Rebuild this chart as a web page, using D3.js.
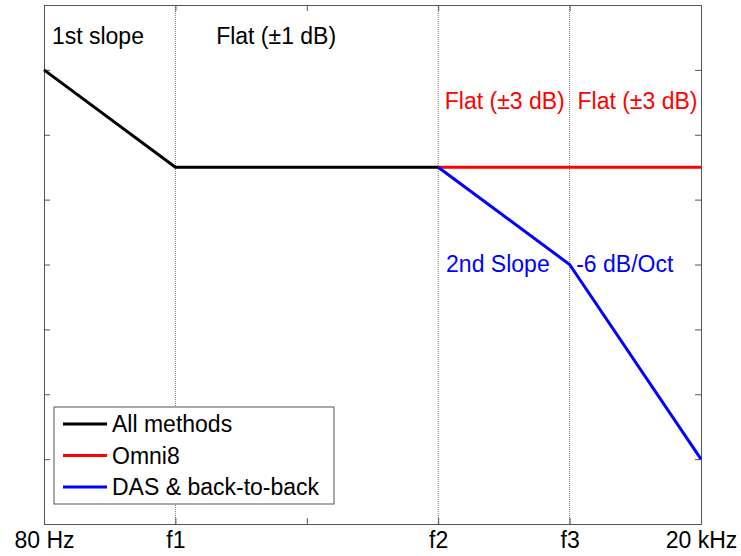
<!DOCTYPE html>
<html>
<head>
<meta charset="utf-8">
<script src="https://cdn.jsdelivr.net/npm/d3@7"></script>
<style>
  body { margin: 0; background: #fff; }
  text { font-family: "Liberation Sans", Arial, sans-serif; }
</style>
</head>
<body>
<div id="chart"></div>
<script>
// band positions along the axis (equal spacing)
const xTickValues = [0, 1, 2, 3, 4, 5];
const xTickLabels = ["80 Hz", "f1", "", "f2", "f3", "20 kHz"];
const yTickValues = [0, 1, 2, 3, 4, 5, 6, 7, 8];
const gridX = [1, 3, 4];

const allMethods = [[0, 7], [1, 5.5], [3, 5.5]];
const omni8 = [[3, 5.5], [5, 5.5]];
const dasB2B = [[3, 5.5], [4, 4], [5, 1]];

const series = [
    { name: "All methods", color: "#000000", data: allMethods },
    { name: "Omni8", color: "#ff0000", data: omni8 },
    { name: "DAS & back-to-back", color: "#0000ff", data: dasB2B }
];

const notes = [
    { text: "1st slope", x: 0.06, y: 7.4, color: "#000" },
    { text: "Flat (\u00b11 dB)", x: 1.31, y: 7.4, color: "#000" },
    { text: "Flat (\u00b13 dB)", x: 3.05, y: 6.4, color: "#ff0000" },
    { text: "Flat (\u00b13 dB)", x: 4.06, y: 6.4, color: "#ff0000" },
    { text: "2nd Slope", x: 3.06, y: 3.88, color: "#0000ff" },
    { text: "-6 dB/Oct", x: 4.05, y: 3.88, color: "#0000ff" }
];

const width = 741, height = 556;
const margin = { left: 44, right: 40, top: 5, bottom: 32 };
const fontSize = "23px";

const svg = d3.select("#chart").append("svg")
    .attr("width", width)
    .attr("height", height);

const x = d3.scaleLinear().domain([0, 5]).range([margin.left, width - margin.right]);
const y = d3.scaleLinear().domain([0, 8]).range([height - margin.bottom, margin.top]);

// dotted grid at the band edges
svg.selectAll(".grid").data(gridX).enter().append("line")
    .attr("x1", d => x(d)).attr("x2", d => x(d))
    .attr("y1", y(0)).attr("y2", y(8))
    .attr("stroke", "#777").attr("stroke-width", 1)
    .attr("stroke-dasharray", "1,1");

// axes, ticks inward on all sides
const axisColor = "#555";
const gBottom = svg.append("g").attr("transform", `translate(0,${y(0)})`)
    .call(d3.axisBottom(x).tickValues(xTickValues).tickSize(-6).tickPadding(8)
        .tickFormat((d, i) => xTickLabels[i]));
const gTop = svg.append("g").attr("transform", `translate(0,${y(8)})`)
    .call(d3.axisTop(x).tickValues(xTickValues).tickSize(-6).tickFormat(""));
const gLeft = svg.append("g").attr("transform", `translate(${x(0)},0)`)
    .call(d3.axisLeft(y).tickValues(yTickValues).tickSize(-6).tickFormat(""));
const gRight = svg.append("g").attr("transform", `translate(${x(5)},0)`)
    .call(d3.axisRight(y).tickValues(yTickValues).tickSize(-6).tickFormat(""));

[gBottom, gTop, gLeft, gRight].forEach(g => {
    g.selectAll("path").attr("stroke", axisColor);
    g.selectAll("line").attr("stroke", axisColor);
});
gBottom.selectAll("text")
    .attr("fill", "#000")
    .style("font-size", fontSize)
    .style("font-family", "'Liberation Sans', Arial, sans-serif");

// lines
const line = d3.line().x(d => x(d[0])).y(d => y(d[1]));
svg.selectAll(".series").data(series).enter().append("path")
    .attr("d", d => line(d.data))
    .attr("fill", "none")
    .attr("stroke", d => d.color)
    .attr("stroke-width", 3);

// annotations
svg.selectAll(".note").data(notes).enter().append("text")
    .attr("x", d => x(d.x))
    .attr("y", d => y(d.y))
    .attr("fill", d => d.color)
    .style("font-size", fontSize)
    .text(d => d.text);

// legend
const legend = svg.append("g").attr("transform", "translate(54,407)");
legend.append("rect")
    .attr("width", 280).attr("height", 97)
    .attr("fill", "#fff").attr("stroke", "#555");
const rows = legend.selectAll(".row").data(series).enter().append("g")
    .attr("transform", (d, i) => `translate(0,${17 + i * 31.5})`);
rows.append("line")
    .attr("x1", 9).attr("x2", 53)
    .attr("stroke", d => d.color).attr("stroke-width", 3);
rows.append("text")
    .attr("x", 58).attr("y", 8)
    .style("font-size", fontSize)
    .text(d => d.name);
</script>
</body>
</html>
